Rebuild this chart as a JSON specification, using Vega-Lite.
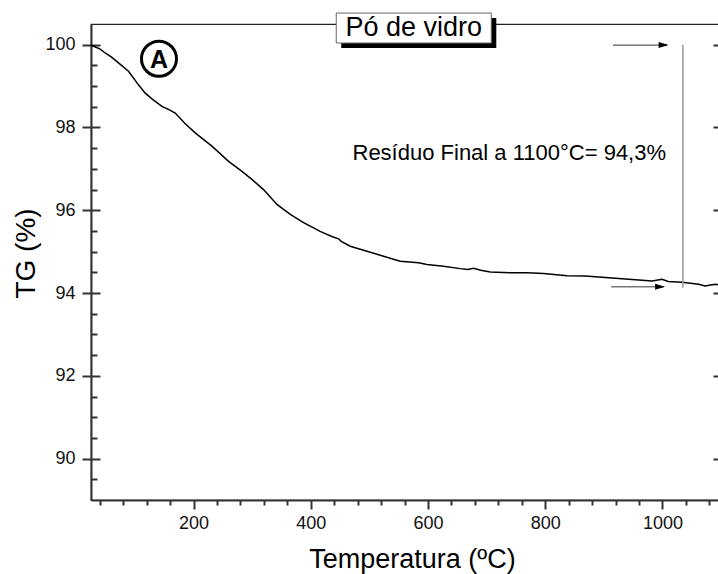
{
  "$schema": "https://vega.github.io/schema/vega-lite/v6.json",
  "autosize": {"type": "none"},
  "padding": {"left": 91, "top": 24, "right": 0, "bottom": 74},
  "width": 630,
  "height": 476,
  "config": {
    "font": "Liberation Sans",
    "view": {"stroke": "#222", "strokeWidth": 1.2},
    "axis": {"grid": false}
  },
  "datasets": {
    "curve": [
      {"T": 25, "TG": 100.0}, {"T": 26.5, "TG": 99.98}, {"T": 40, "TG": 99.9}, {"T": 49.2, "TG": 99.8},
      {"T": 60, "TG": 99.7}, {"T": 71.9, "TG": 99.56}, {"T": 89, "TG": 99.36}, {"T": 106, "TG": 99.03},
      {"T": 117.5, "TG": 98.83}, {"T": 130, "TG": 98.68}, {"T": 146, "TG": 98.51}, {"T": 158, "TG": 98.43}, {"T": 168.7, "TG": 98.35},
      {"T": 185, "TG": 98.1}, {"T": 202.8, "TG": 97.87}, {"T": 231.3, "TG": 97.55}, {"T": 259.7, "TG": 97.18},
      {"T": 282.6, "TG": 96.94}, {"T": 300, "TG": 96.74}, {"T": 319.4, "TG": 96.5}, {"T": 342.3, "TG": 96.14},
      {"T": 365, "TG": 95.9}, {"T": 387.7, "TG": 95.7}, {"T": 416, "TG": 95.49}, {"T": 437, "TG": 95.36},
      {"T": 447.4, "TG": 95.31}, {"T": 452, "TG": 95.25}, {"T": 467.4, "TG": 95.13}, {"T": 495.9, "TG": 95.01},
      {"T": 524.2, "TG": 94.89}, {"T": 552.7, "TG": 94.77}, {"T": 584, "TG": 94.73}, {"T": 598.3, "TG": 94.69},
      {"T": 626.6, "TG": 94.65}, {"T": 655, "TG": 94.59}, {"T": 668, "TG": 94.57}, {"T": 677.8, "TG": 94.6},
      {"T": 690, "TG": 94.55}, {"T": 706.3, "TG": 94.51}, {"T": 740.4, "TG": 94.49}, {"T": 769, "TG": 94.49},
      {"T": 797.3, "TG": 94.47}, {"T": 837.2, "TG": 94.42}, {"T": 868.6, "TG": 94.41}, {"T": 908.3, "TG": 94.37},
      {"T": 948.3, "TG": 94.33}, {"T": 982.4, "TG": 94.29}, {"T": 999.4, "TG": 94.33}, {"T": 1010, "TG": 94.28},
      {"T": 1033.5, "TG": 94.26}, {"T": 1061.8, "TG": 94.21}, {"T": 1073, "TG": 94.17}, {"T": 1085, "TG": 94.2},
      {"T": 1091.8, "TG": 94.21}, {"T": 1100, "TG": 94.18}
    ],
    "shafts": [
      {"x1": 915.7, "x2": 1008, "y": 99.99},
      {"x1": 912.5, "x2": 1002, "y": 94.15}
    ],
    "heads": [
      {"x": 1010.6, "y": 99.99},
      {"x": 1004.7, "y": 94.15}
    ],
    "vline": [{"x": 1035, "y1": 100, "y2": 94.13}],
    "shadow": [{"x1": 452, "x2": 716.6, "y1": 100.645, "y2": 99.92}],
    "box": [{"x1": 443.5, "x2": 708, "y1": 100.765, "y2": 100.04}],
    "boxtext": [{"x": 575.8, "y": 100.4, "label": "Pó de vidro"}],
    "circ": [{"x": 141, "y": 99.66, "label": "A"}],
    "note": [{"x": 738.7, "y": 97.39, "label": "Resíduo Final a 1100°C= 94,3%"}]
  },
  "resolve": {"axis": {"x": "independent", "y": "independent"}},
  "layer": [
    {
      "data": {"name": "curve"},
      "mark": {"type": "line", "color": "#000", "strokeWidth": 1.5},
      "encoding": {
        "x": {"field": "T", "type": "quantitative",
          "scale": {"domain": [25, 1100], "nice": false, "zero": false},
          "axis": {"orient": "bottom", "values": [200, 400, 600, 800, 1000], "format": "d", "tickSize": 9, "tickWidth": 2, "tickColor": "#333",
            "domainColor": "#333", "domainWidth": 2, "labelFontSize": 18, "labelColor": "#111", "labelPadding": 5,
            "title": "Temperatura (ºC)", "titleFontSize": 27, "titleFontWeight": "normal", "titleColor": "#000",
            "titleX": 321, "titleY": 67, "titleBaseline": "alphabetic", "titleAnchor": null, "titleAlign": "center"}},
        "y": {"field": "TG", "type": "quantitative",
          "scale": {"domain": [89, 100.5], "nice": false, "zero": false},
          "axis": {"orient": "left", "values": [90, 92, 94, 96, 98, 100], "format": "d", "tickSize": 9, "tickWidth": 2, "tickColor": "#333",
            "domainColor": "#333", "domainWidth": 2, "labelFontSize": 18, "labelColor": "#111", "labelPadding": 7,
            "title": "TG (%)", "titleFontSize": 28, "titleFontWeight": "normal", "titleColor": "#000",
            "titleAngle": -90, "titleX": -57, "titleY": 229, "titleBaseline": "alphabetic", "titleAlign": "center"}}
      }
    },
    {
      "data": {"name": "shafts"},
      "mark": {"type": "rule", "color": "#333", "strokeWidth": 1},
      "encoding": {
        "x": {"field": "x1", "type": "quantitative",
          "axis": {"orient": "bottom", "values": [40, 80, 120, 160, 240, 280, 320, 360, 440, 480, 520, 560, 640, 680, 720, 760, 840, 880, 920, 960, 1040, 1080],
            "tickSize": 5, "tickWidth": 2, "tickColor": "#333", "labels": false, "domain": false, "title": null}},
        "x2": {"field": "x2"},
        "y": {"field": "y", "type": "quantitative",
          "axis": {"orient": "left", "values": [89.5, 90.5, 91, 91.5, 92.5, 93, 93.5, 94.5, 95, 95.5, 96.5, 97, 97.5, 98.5, 99, 99.5],
            "tickSize": -6, "tickWidth": 2, "tickColor": "#333", "labels": false, "domain": false, "title": null}}
      }
    },
    {
      "data": {"name": "heads"},
      "mark": {"type": "point", "shape": "M-2,-0.6L0,0L-2,0.6Z", "filled": true, "color": "#000", "size": 100, "opacity": 1},
      "encoding": {
        "x": {"field": "x", "type": "quantitative", "axis": null},
        "y": {"field": "y", "type": "quantitative",
          "axis": {"orient": "left", "values": [90, 92, 94, 96, 98, 100], "tickSize": -9, "tickWidth": 2, "tickColor": "#333",
            "labels": false, "domain": false, "title": null}}
      }
    },
    {
      "data": {"name": "vline"},
      "mark": {"type": "rule", "color": "#999", "strokeWidth": 1.5},
      "encoding": {
        "x": {"field": "x", "type": "quantitative", "axis": null},
        "y": {"field": "y1", "type": "quantitative",
          "axis": {"orient": "right", "values": [90, 92, 94, 96, 98, 100], "tickSize": -8, "tickWidth": 2, "tickColor": "#333",
            "labels": false, "domain": false, "title": null}},
        "y2": {"field": "y2"}
      }
    },
    {
      "data": {"name": "shadow"},
      "mark": {"type": "rect", "color": "#000"},
      "encoding": {
        "x": {"field": "x1", "type": "quantitative", "axis": null},
        "x2": {"field": "x2"},
        "y": {"field": "y1", "type": "quantitative",
          "axis": {"orient": "right", "values": [89.5, 90.5, 91, 91.5, 92.5, 93, 93.5, 94.5, 95, 95.5, 96.5, 97, 97.5, 98.5, 99, 99.5],
            "tickSize": -3, "tickWidth": 2, "tickColor": "#333", "labels": false, "domain": false, "title": null}},
        "y2": {"field": "y2"}
      }
    },
    {
      "data": {"name": "box"},
      "mark": {"type": "rect", "fill": "#fff", "stroke": "#666", "strokeWidth": 1},
      "encoding": {
        "x": {"field": "x1", "type": "quantitative", "axis": null},
        "x2": {"field": "x2"},
        "y": {"field": "y1", "type": "quantitative", "axis": null},
        "y2": {"field": "y2"}
      }
    },
    {
      "data": {"name": "boxtext"},
      "mark": {"type": "text", "fontSize": 27, "align": "center", "baseline": "middle", "color": "#000"},
      "encoding": {
        "x": {"field": "x", "type": "quantitative", "axis": null},
        "y": {"field": "y", "type": "quantitative", "axis": null},
        "text": {"field": "label"}
      }
    },
    {
      "data": {"name": "circ"},
      "mark": {"type": "point", "shape": "circle", "filled": false, "stroke": "#000", "strokeWidth": 3, "size": 1225, "opacity": 1},
      "encoding": {
        "x": {"field": "x", "type": "quantitative", "axis": null},
        "y": {"field": "y", "type": "quantitative", "axis": null}
      }
    },
    {
      "data": {"name": "circ"},
      "mark": {"type": "text", "fontSize": 25, "fontWeight": "bold", "align": "center", "baseline": "middle", "color": "#000", "dy": 1},
      "encoding": {
        "x": {"field": "x", "type": "quantitative", "axis": null},
        "y": {"field": "y", "type": "quantitative", "axis": null},
        "text": {"field": "label"}
      }
    },
    {
      "data": {"name": "note"},
      "mark": {"type": "text", "fontSize": 22, "align": "center", "baseline": "middle", "color": "#000"},
      "encoding": {
        "x": {"field": "x", "type": "quantitative", "axis": null},
        "y": {"field": "y", "type": "quantitative", "axis": null},
        "text": {"field": "label"}
      }
    }
  ]
}
